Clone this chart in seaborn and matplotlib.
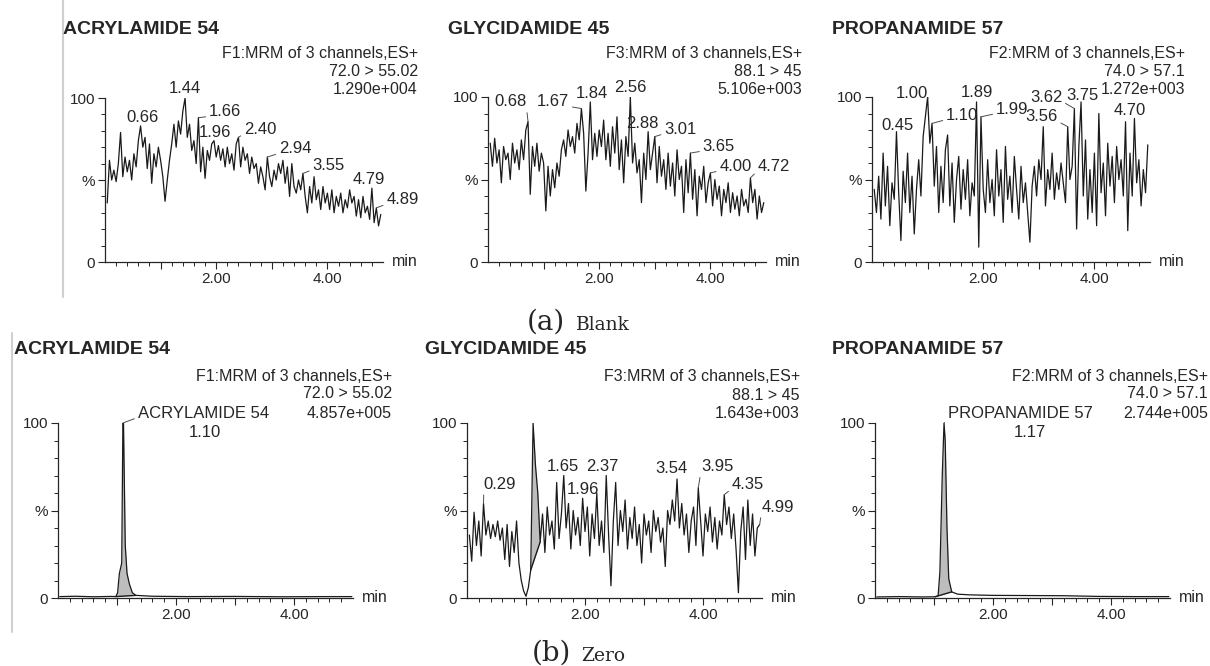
import numpy as np
import matplotlib
matplotlib.use("Agg")
import matplotlib.pyplot as plt
from matplotlib.lines import Line2D
import seaborn as sns

sns.set_style("ticks")
plt.rcParams["font.family"] = ["Liberation Sans", "DejaVu Sans"]

# scan grid of the noisy traces (min)
scan_times = np.round(np.arange(1, 125) * 0.04, 2)

# (a) Blank -- relative intensity (%)
acryl_blank = [36, 62, 50, 56, 49, 60, 79, 52, 64, 55,
               62, 50, 66, 58, 74, 83, 70, 76, 57, 72,
               48, 66, 58, 70, 62, 52, 37, 50, 62, 72,
               84, 70, 86, 78, 92, 100, 76, 84, 68, 74,
               60, 88, 55, 70, 51, 68, 62, 72, 74, 64,
               71, 62, 69, 58, 70, 60, 66, 56, 72, 76,
               58, 70, 62, 66, 54, 64, 57, 60, 48, 58,
               52, 44, 64, 52, 46, 56, 50, 60, 54, 62,
               48, 58, 40, 60, 46, 42, 50, 44, 54, 40,
               30, 46, 36, 52, 38, 44, 32, 46, 36, 42,
               32, 44, 30, 40, 34, 42, 30, 38, 33, 44,
               36, 40, 28, 38, 27, 40, 30, 34, 26, 45,
               24, 33, 22, 29]
glyc_blank = [72, 58, 75, 60, 68, 48, 70, 62, 66, 50,
              72, 60, 68, 56, 74, 62, 80, 85, 41, 70,
              58, 72, 55, 66, 60, 31, 58, 40, 56, 45,
              60, 52, 68, 74, 64, 80, 70, 76, 66, 84,
              74, 93, 78, 43, 66, 97, 62, 78, 64, 80,
              70, 86, 62, 78, 58, 82, 66, 88, 56, 74,
              48, 76, 64, 100, 60, 72, 54, 62, 36, 66,
              50, 79, 56, 66, 76, 48, 70, 52, 62, 44,
              66, 46, 60, 40, 68, 50, 58, 30, 62, 42,
              66, 38, 56, 28, 52, 44, 58, 36, 48, 54,
              34, 50, 38, 46, 28, 44, 36, 48, 30, 42,
              32, 40, 28, 44, 34, 38, 30, 51, 36, 44,
              26, 40, 30, 36]
prop_blank = [44, 30, 52, 26, 66, 34, 58, 22, 48, 38,
              79, 42, 13, 55, 36, 66, 30, 52, 17, 44,
              62, 40, 76, 88, 100, 72, 84, 46, 70, 30,
              58, 36, 68, 77, 34, 60, 24, 50, 64, 32,
              56, 38, 62, 28, 48, 40, 97, 9, 88, 44,
              30, 62, 36, 50, 28, 68, 40, 56, 24, 70,
              38, 52, 30, 64, 44, 26, 58, 36, 48, 30,
              12, 46, 58, 40, 62, 50, 82, 34, 56, 44,
              66, 38, 54, 44, 60, 48, 36, 82, 50, 58,
              93, 20, 70, 97, 40, 74, 26, 56, 30, 66,
              22, 90, 42, 60, 28, 72, 46, 64, 36, 70,
              50, 62, 40, 85, 19, 66, 40, 87, 48, 62,
              34, 56, 42, 71]

# (b) Zero
glyc_zero = [36, 21, 49, 30, 44, 24, 54, 36, 44, 34,
             42, 35, 44, 33, 40, 22, 42, 18, 38, 26,
             44, 20, 10, 4, 1, 6, 16, 100, 76, 60,
             32, 48, 26, 52, 36, 44, 28, 66, 34, 48,
             70, 40, 54, 28, 50, 36, 46, 30, 57, 38,
             52, 24, 48, 34, 60, 30, 44, 26, 70, 36,
             7, 44, 66, 30, 50, 38, 56, 28, 46, 34,
             52, 30, 42, 20, 48, 36, 44, 26, 50, 38,
             46, 32, 40, 18, 50, 42, 56, 44, 68, 40,
             54, 36, 48, 26, 44, 52, 30, 63, 44, 24,
             48, 38, 52, 32, 46, 28, 44, 36, 59, 42,
             52, 34, 48, 28, 3, 38, 52, 22, 56, 30,
             48, 24, 40, 42]
acryl_zero_t = [0.03, 0.3, 0.6, 0.9, 0.98, 1.01, 1.04, 1.08, 1.10, 1.11, 1.14,
                1.17, 1.21, 1.26, 1.32, 1.6, 2.2, 3.0, 3.8, 4.5, 4.98]
acryl_zero = [0.8, 1.0, 0.7, 0.9, 0.8, 3, 14, 20, 100, 100, 30,
              14, 8, 3, 1.5, 1.0, 0.8, 0.9, 0.7, 0.8, 0.8]
prop_zero_t = [0.03, 0.4, 0.8, 1.02, 1.07, 1.10, 1.14, 1.17, 1.19, 1.22,
               1.25, 1.30, 1.40, 1.6, 2.0, 2.6, 3.2, 3.8, 4.4, 4.98]
prop_zero = [0.6, 0.8, 0.6, 0.7, 1.3, 15, 70, 100, 90, 40,
             11, 3.5, 2.2, 1.8, 1.5, 1.4, 1.3, 0.9, 0.8, 0.8]

titles = ["ACRYLAMIDE 54", "GLYCIDAMIDE 45", "PROPANAMIDE 57"] * 2
functions = ["F1", "F3", "F2"] * 2
transitions = ["72.0 > 55.02", "88.1 > 45", "74.0 > 57.1"] * 2
intensities = ["1.290e+004", "5.106e+003", "1.272e+003",
               "4.857e+005", "1.643e+003", "2.744e+005"]

# peak labels: text, text x, text y, peak x, peak y (None = no leader)
labels_acryl_blank = [("0.66", 0.67, 88, None, None), ("1.44", 1.44, 105.5, None, None),
                      ("1.66", 2.16, 91.5, 1.68, 88), ("1.96", 1.98, 79, None, None),
                      ("2.40", 2.79, 81, 2.40, 76), ("2.94", 3.42, 69, 2.92, 64),
                      ("3.55", 4.02, 59, 3.56, 54), ("4.79", 4.74, 50.6, None, None),
                      ("4.89", 5.35, 38, 4.88, 33)]
labels_glyc_blank = [("0.68", 0.40, 97, 0.72, 85), ("1.67", 1.17, 97, 1.68, 93),
                     ("1.84", 1.87, 102.4, None, None), ("2.56", 2.56, 105.5, None, None),
                     ("2.88", 2.78, 84, None, None), ("3.01", 3.46, 80.5, 3.00, 76),
                     ("3.65", 4.15, 70, 3.64, 66), ("4.00", 4.45, 58, 4.00, 54),
                     ("4.72", 5.14, 58, 4.72, 51)]
labels_prop_blank = [("0.45", 0.45, 83, None, None), ("1.00", 0.72, 102, 1.00, 99),
                     ("1.10", 1.62, 89, 1.08, 84), ("1.89", 1.89, 103, None, None),
                     ("1.99", 2.52, 92.7, 1.96, 88), ("3.62", 3.13, 100, 3.64, 93),
                     ("3.75", 3.78, 101, None, None), ("3.56", 3.05, 88, 3.52, 82),
                     ("4.70", 4.64, 92, None, None)]
labels_acryl_zero = [("ACRYLAMIDE 54", 2.46, 105.7, 1.10, 100), ("1.10", 2.49, 94.3, None, None)]
labels_glyc_zero = [("0.29", 0.56, 65, 0.28, 54), ("1.65", 1.63, 75.4, None, None),
                    ("1.96", 1.97, 62, None, None), ("2.37", 2.29, 75, None, None),
                    ("3.54", 3.46, 74, None, None), ("3.95", 4.24, 75, 3.92, 63),
                    ("4.35", 4.76, 65, 4.36, 59), ("4.99", 5.27, 52, 4.96, 42)]
labels_prop_zero = [("PROPANAMIDE 57", 2.46, 105.7, 1.17, 100), ("1.17", 2.63, 94.3, None, None)]

traces = [(scan_times, acryl_blank), (scan_times, glyc_blank), (scan_times, prop_blank),
          (acryl_zero_t, acryl_zero), (scan_times, glyc_zero), (prop_zero_t, prop_zero)]
peak_labels = [labels_acryl_blank, labels_glyc_blank, labels_prop_blank,
               labels_acryl_zero, labels_glyc_zero, labels_prop_zero]
# integrated (shaded) regions: start, end, baseline at start, baseline at end
shaded = {3: (0.98, 1.32, 0.8, 1.5), 4: (1.08, 1.24, 16, 32), 5: (1.02, 1.30, 0.7, 3.5)}

W, H = 1210, 666
fig = plt.figure(figsize=(W / 100, H / 100), dpi=100)

# axes boxes in pixels: left, right, top, bottom
boxes = [(105, 383, 98, 262), (488, 766, 97, 262), (872, 1150, 97, 262),
         (58, 353, 423, 598), (467, 762, 423, 598), (875, 1170, 423, 598)]
title_pos = [(63, 29), (448, 29), (832, 29), (14, 350), (425, 350), (832, 350)]
info_pos = [(418, 53, 71, 89), (802, 53, 71, 89), (1185, 53, 71, 89),
            (392, 376, 394, 413), (800, 377, 395, 413), (1208, 376, 394, 413)]

fs_info = 11.5
fs_peak = 12
for i in range(6):
    l, r, t, b = boxes[i]
    ax = fig.add_axes([l / W, 1 - b / H, (r - l) / W, (b - t) / H])
    x, y = traces[i]
    xx = np.asarray(x, dtype=float)
    yy = np.asarray(y, dtype=float)
    if i in shaded:
        a0, a1, b0, b1 = shaded[i]
        m = (xx >= a0) & (xx <= a1)
        base = np.interp(xx[m], [a0, a1], [b0, b1])
        ax.fill_between(xx[m], yy[m], base, color="#bdbdbd", linewidth=0)
        ax.plot([a0, a1], [b0, b1], color="#1a1a1a", lw=1.0)
    sns.lineplot(x=xx, y=yy, ax=ax, color="#1a1a1a",
                 linewidth=0.9, estimator=None, sort=False)

    ax.set_xlim(0, 5)
    ax.set_ylim(0, 100)
    ax.set_xticks([1, 2, 3, 4])
    ax.set_xticklabels(["", "2.00", "", "4.00"])
    ax.set_xticks(np.arange(0.2, 5.0, 0.2), minor=True)
    ax.set_yticks([0, 50, 100])
    ax.set_yticklabels(["0", "%", "100"])
    ax.set_yticks(np.arange(10, 100, 10), minor=True)
    ax.tick_params(which="major", direction="out", length=5, width=0.8,
                   labelsize=11, pad=2)
    ax.tick_params(which="minor", direction="out", length=3, width=0.7)
    ax.set_xlabel("")
    ax.set_ylabel("")
    sns.despine(ax=ax)
    for s in ["left", "bottom"]:
        ax.spines[s].set_linewidth(0.9)
    ax.set_facecolor("none")
    ax.annotate("min", xy=(1, 0), xycoords="axes fraction", xytext=(9, 0),
                textcoords="offset pixels", ha="left", va="center", fontsize=fs_info)

    for text, tx, ty, px, py in peak_labels[i]:
        if px is None:
            ax.text(tx, ty, text, ha="center", va="center", fontsize=fs_peak, clip_on=False)
        else:
            rel = (0.0, 0.2) if px < tx else (1.0, 0.2)
            ax.annotate(text, xy=(px, py), xytext=(tx, ty), ha="center", va="center",
                        fontsize=fs_peak, annotation_clip=False,
                        arrowprops=dict(arrowstyle="-", color="0.3", lw=0.7,
                                        shrinkA=0, shrinkB=0, relpos=rel))

    tx0, ty0 = title_pos[i]
    fig.text(tx0 / W, 1 - ty0 / H, titles[i], ha="left", va="center",
             fontsize=14, fontweight="bold")
    rx, y1, y2, y3 = info_pos[i]
    fig.text(rx / W, 1 - y1 / H, functions[i] + ":MRM of 3 channels,ES+",
             ha="right", va="center", fontsize=fs_info)
    fig.text(rx / W, 1 - y2 / H, transitions[i], ha="right", va="center", fontsize=fs_info)
    fig.text(rx / W, 1 - y3 / H, intensities[i], ha="right", va="center", fontsize=fs_info)

# sub-figure captions
serif = ["DejaVu Serif"]
fig.text(527 / W, 1 - 330 / H, "(a)", ha="left", va="baseline", fontsize=20, family=serif)
fig.text(576 / W, 1 - 330 / H, "Blank", ha="left", va="baseline", fontsize=13.5, family=serif)
fig.text(532 / W, 1 - 661 / H, "(b)", ha="left", va="baseline", fontsize=20, family=serif)
fig.text(581 / W, 1 - 661 / H, "Zero", ha="left", va="baseline", fontsize=13.5, family=serif)

# light separator lines from the original screenshots
fig.add_artist(Line2D([63 / W, 63 / W], [1, 1 - 297 / H], color="#d0d0d0", lw=1.5))
fig.add_artist(Line2D([12 / W, 12 / W], [1 - 333 / H, 1 - 632 / H], color="#d0d0d0", lw=1.5))

fig.savefig("out.png", dpi=100)
